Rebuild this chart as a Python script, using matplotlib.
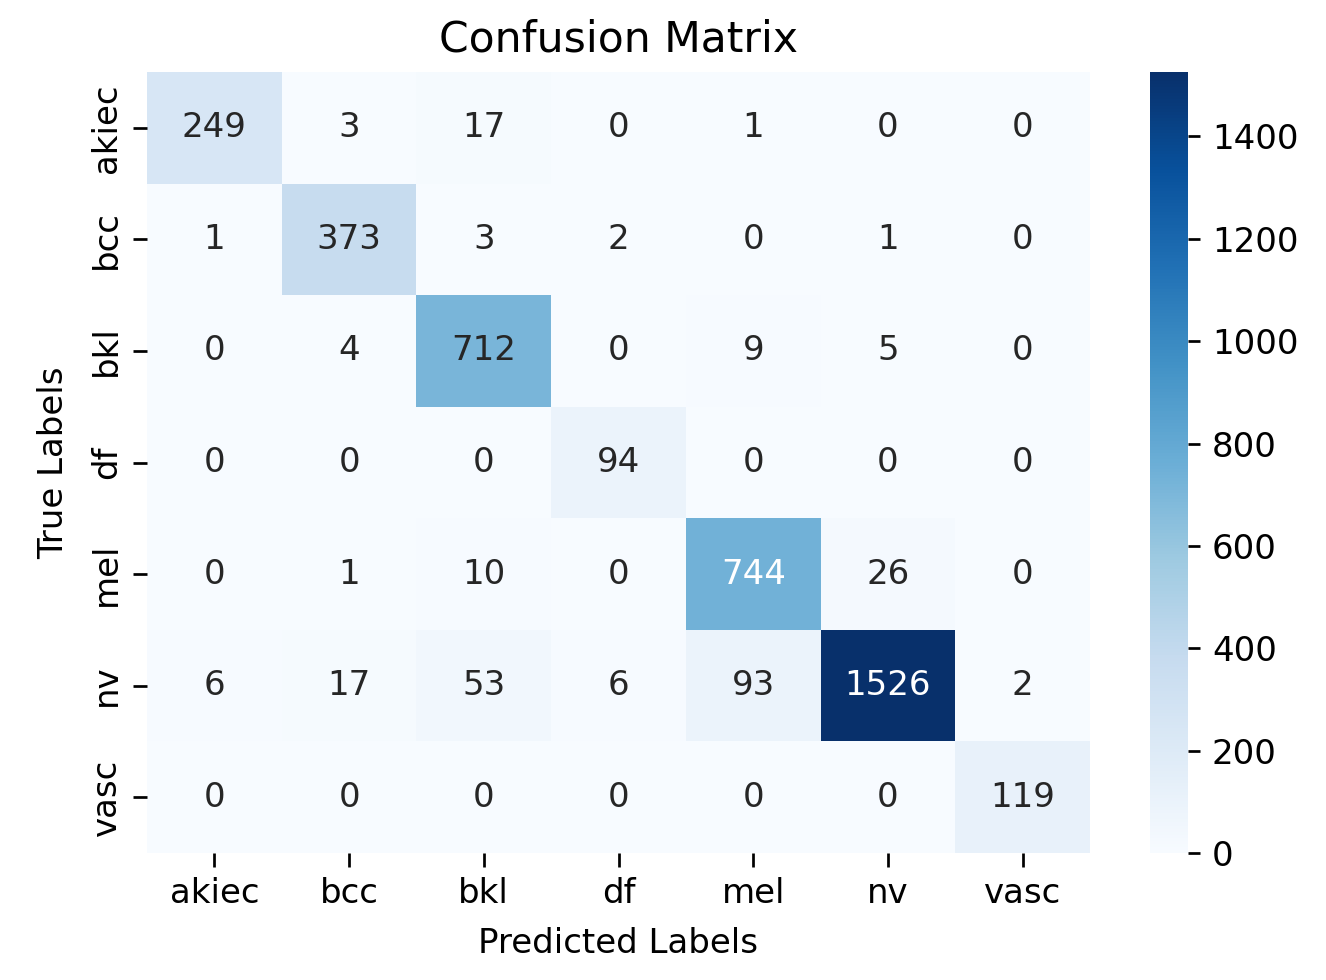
import matplotlib
matplotlib.use("Agg")
import matplotlib.pyplot as plt
import numpy as np
import seaborn as sns

labels = ["akiec", "bcc", "bkl", "df", "mel", "nv", "vasc"]
cm = np.array([
    [249, 3, 17, 0, 1, 0, 0],
    [1, 373, 3, 2, 0, 1, 0],
    [0, 4, 712, 0, 9, 5, 0],
    [0, 0, 0, 94, 0, 0, 0],
    [0, 1, 10, 0, 744, 26, 0],
    [6, 17, 53, 6, 93, 1526, 2],
    [0, 0, 0, 0, 0, 0, 119],
])

dpi = 245
fig = plt.figure(figsize=(1326 / dpi, 980 / dpi), dpi=dpi)
W, H = 1326, 980
ax = fig.add_axes([147 / W, 1 - 853 / H, (1090 - 147) / W, (853 - 72) / H])
cax = fig.add_axes([1150 / W, 1 - 853 / H, (1188 - 1150) / W, (853 - 72) / H])

sns.heatmap(cm, annot=True, fmt="d", cmap="Blues",
            xticklabels=labels, yticklabels=labels, ax=ax, cbar_ax=cax)
ax.tick_params(length=4, pad=3)
ax.set_xlabel("Predicted Labels", labelpad=5)
ax.set_ylabel("True Labels", labelpad=6)
ax.set_title("Confusion Matrix", fontsize=12.5)

fig.savefig("out.png", dpi=dpi)
